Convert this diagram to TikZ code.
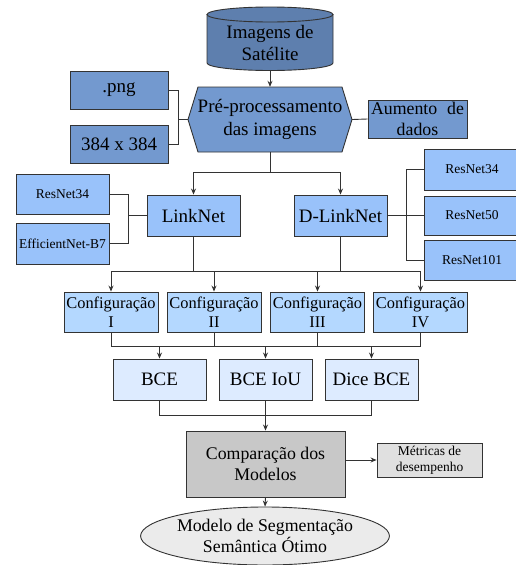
\documentclass[tikz,border=0pt]{standalone}
\usepackage{fontspec}
\setmainfont{Liberation Serif}
\usetikzlibrary{arrows.meta,shapes.geometric}
\definecolor{cylblue}{HTML}{5E7FAE}
\definecolor{midblue}{HTML}{7399CF}
\definecolor{netblue}{HTML}{99C2FA}
\definecolor{cfgblue}{HTML}{B4D8FF}
\definecolor{lossblue}{HTML}{DDEBFF}
\definecolor{compgray}{HTML}{C8C8C8}
\definecolor{metgray}{HTML}{E0E0E0}
\definecolor{ellgray}{HTML}{EBEBEB}
\definecolor{edge}{HTML}{333333}
\newcommand\FontBig{\fontsize{19}{22.5}\selectfont}
\newcommand\FontMid{\fontsize{17.8}{21.5}\selectfont}
\newcommand\FontCfg{\fontsize{16.4}{19}\selectfont}
\newcommand\FontSmall{\fontsize{13.5}{16}\selectfont}
\begin{document}
\begin{tikzpicture}[x=1pt,y=-1pt,
  box/.style={draw=edge,line width=0.9pt,inner sep=0pt,align=center},
  wire/.style={draw=edge,line width=0.9pt},
  arr/.style={wire,-{Stealth[length=6pt,width=5pt]}}]
\useasboundingbox (0,0) rectangle (515,565);
% cylinder
\filldraw[fill=cylblue,draw=edge,line width=0.9pt] (207,14.5) -- (207,63) arc[start angle=180,end angle=0,x radius=63,y radius=7.5] -- (333,14.5) -- cycle;
\filldraw[fill=cylblue,draw=edge,line width=0.9pt] (270,14.5) ellipse[x radius=63,y radius=7.5];
\node[inner sep=0pt,minimum width=126pt,minimum height=56.5pt,align=center,font=\FontBig] (cyl) at (270,42.75) {Imagens de\\Satélite};
% hexagon
\filldraw[fill=midblue,draw=edge,line width=0.9pt] (198,87) -- (342,87) -- (352,119.5) -- (342,152) -- (198,152) -- (188,119.5) -- cycle;
\node[inner sep=0pt,minimum width=164pt,minimum height=65pt,align=center,font=\FontBig] (hex) at (270,119.5) {Pré-processamento\\das imagens};
% side boxes
\node[box,fill=midblue,minimum width=98pt,minimum height=38pt,font=\FontBig] (png) at (119,90) {.png};
\node[box,fill=midblue,minimum width=98pt,minimum height=38pt,font=\FontBig] (res) at (119,144) {384 x 384};
\node[box,fill=midblue,minimum width=99pt,minimum height=38pt,font=\FontMid] (aug) at (417.5,119) {\makebox[94pt][c]{Aumento\hspace{0.55em}de}\\\makebox[94pt][c]{dados}};
% networks
\node[box,fill=netblue,minimum width=93pt,minimum height=41pt,font=\FontBig] (ln) at (193.5,215.5) {LinkNet};
\node[box,fill=netblue,minimum width=93pt,minimum height=41pt,font=\FontBig] (dln) at (340.5,215.5) {D-LinkNet};
\node[box,fill=netblue,minimum width=93pt,minimum height=40pt,font=\FontSmall] (lr) at (62.5,194) {ResNet34};
\node[box,fill=netblue,minimum width=93pt,minimum height=41pt,font=\FontSmall] (eff) at (62.5,243.5) {EfficientNet-B7};
\node[box,fill=netblue,minimum width=96pt,minimum height=41pt,font=\FontSmall] (r34) at (472,169.5) {ResNet34};
\node[box,fill=netblue,minimum width=96pt,minimum height=39pt,font=\FontSmall] (r50) at (472,215.5) {ResNet50};
\node[box,fill=netblue,minimum width=96pt,minimum height=40pt,font=\FontSmall] (r101) at (472,260) {ResNet101};
% configurations
\node[box,fill=cfgblue,minimum width=94pt,minimum height=40pt,font=\FontCfg] (c1) at (111,312) {Configuração\\I};
\node[box,fill=cfgblue,minimum width=94pt,minimum height=40pt,font=\FontCfg] (c2) at (214,312) {Configuração\\II};
\node[box,fill=cfgblue,minimum width=94pt,minimum height=40pt,font=\FontCfg] (c3) at (317.5,312) {Configuração\\III};
\node[box,fill=cfgblue,minimum width=94pt,minimum height=40pt,font=\FontCfg] (c4) at (420.5,312) {Configuração\\IV};
% losses
\node[box,fill=lossblue,minimum width=93pt,minimum height=41pt,font=\FontBig] (bce) at (159.5,379.5) {BCE};
\node[box,fill=lossblue,minimum width=93pt,minimum height=41pt,font=\FontBig] (iou) at (265.5,379.5) {BCE IoU};
\node[box,fill=lossblue,minimum width=93pt,minimum height=41pt,font=\FontBig] (dice) at (371.5,379.5) {Dice BCE};
% comparison
\node[box,fill=compgray,minimum width=159pt,minimum height=66pt,font=\FontMid] (comp) at (265.5,464) {Comparação dos\\Modelos};
\node[box,fill=metgray,minimum width=105pt,minimum height=34pt,font=\FontSmall] (met) at (429.5,460) {Métricas de\\desempenho};
\node[draw=edge,line width=0.9pt,fill=ellgray,ellipse,inner sep=0pt,minimum width=196pt,minimum height=58pt,align=center,font=\FontMid] (ell) at (265,536) {Modelo de Segmentação\\Semântica Ótimo};
% coordinates
\coordinate (j1) at (178,119.5);
\coordinate (j2) at (128,215.5);
\coordinate (j3) at (406,215.5);
\coordinate (b1) at (270,172);
\coordinate (b2l) at (111,271);
\coordinate (b2r) at (420.5,271);
\coordinate (b3l) at (111,346);
\coordinate (b3r) at (420.5,346);
\coordinate (b4l) at (159.5,415);
\coordinate (b4r) at (371.5,415);
% connectors
\draw[arr] (cyl.south) -- (hex.north);
\draw[wire] (png.east) -| (j1);
\draw[wire] (res.east) -| (j1);
\draw[wire] (j1) -- (hex.west);
\draw[wire] (hex.east) -- (aug.west);
\draw[wire] (hex.south) -- (b1);
\draw[arr] (b1) -| (ln.north);
\draw[arr] (b1) -| (dln.north);
\draw[wire] (lr.east) -| (j2);
\draw[wire] (eff.east) -| (j2);
\draw[wire] (j2) -- (ln.west);
\draw[wire] (dln.east) -- (j3);
\draw[wire] (j3) |- (r34.west);
\draw[wire] (j3) |- (r101.west);
\draw[wire] (j3) -- (r50.west);
\draw[wire] (ln.south) -- (ln.south |- b2l);
\draw[wire] (dln.south) -- (dln.south |- b2l);
\draw[wire] (b2l) -- (b2r);
\foreach \c in {c1,c2,c3,c4} {
  \draw[arr] (\c.north |- b2l) -- (\c.north);
  \draw[wire] (\c.south) -- (\c.south |- b3l);
}
\draw[wire] (b3l) -- (b3r);
\foreach \l in {bce,iou,dice} {
  \draw[arr] (\l.north |- b3l) -- (\l.north);
}
\draw[wire] (bce.south) -- (b4l) -- (b4r) -- (dice.south);
\draw[arr] (iou.south) -- (comp.north);
\draw[arr] (comp.east |- met.west) -- (met.west);
\draw[arr] (comp.south) -- (ell.north);
\end{tikzpicture}
\end{document}
